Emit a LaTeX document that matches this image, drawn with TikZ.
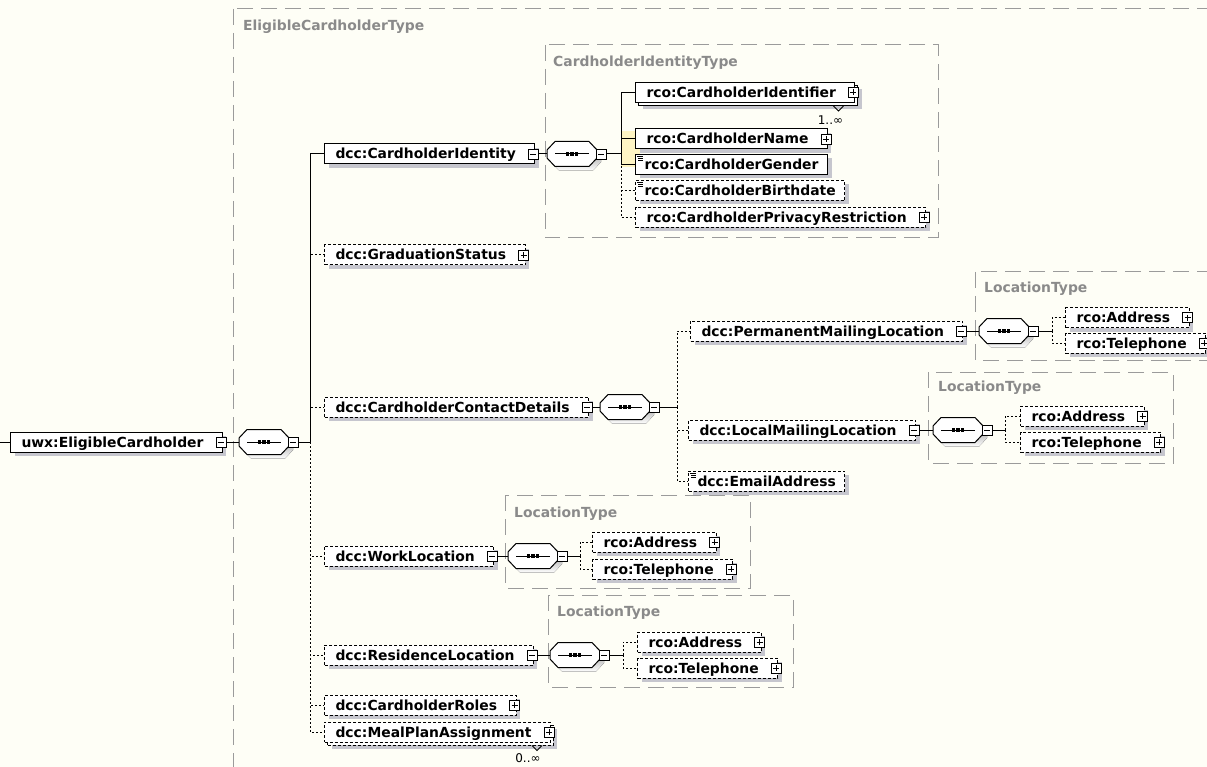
\documentclass[tikz,border=0pt]{standalone}
\usepackage{fontspec}
\setmainfont{DejaVu Sans}
\usetikzlibrary{shadows,calc}

\definecolor{paper}{RGB}{254,254,246}
\definecolor{frameline}{RGB}{155,155,155}
\definecolor{frametext}{RGB}{138,138,138}
\definecolor{shade}{RGB}{198,198,206}
\definecolor{hilite}{RGB}{255,245,196}

\tikzset{
  lbl/.style={font=\fontsize{13.9}{16}\selectfont\bfseries},
  box/.style={lbl, draw=black, fill=white, line width=1pt, anchor=west,
    minimum height=20pt, inner xsep=11pt, inner ysep=0pt,
    text height=12.5pt, text depth=2.5pt},
  elem/.style={box,
    drop shadow={shadow xshift=4pt, shadow yshift=-4pt, fill=shade, draw=none, opacity=1}},
  multi/.style={box,
    general shadow={shadow xshift=7pt, shadow yshift=-7pt, fill=shade, draw=none},
    general shadow={shadow xshift=3pt, shadow yshift=-3pt, fill=white, draw=black, #1}},
  multi/.default={solid},
  optional/.style={dash pattern=on 3pt off 2pt},
  withbox/.style={execute at end node={\hspace*{8pt}}},
  simple/.style={inner xsep=9pt, path picture={
    \draw[solid, line width=0.7pt]
      ([xshift=1.5pt,yshift=-2pt]path picture bounding box.north west) -- +(5.5pt,0)
      ([xshift=2.5pt,yshift=-4pt]path picture bounding box.north west) -- +(4.5pt,0)
      ([xshift=2.5pt,yshift=-6pt]path picture bounding box.north west) -- +(4.5pt,0);}},
  seq/.style={minimum width=50pt, minimum height=25pt, inner sep=0pt},
  pm/.style={draw=black, fill=white, line width=0.8pt, solid, minimum size=10pt, inner sep=0pt},
  minus/.style={pm, path picture={
    \draw[line width=0.8pt] ([xshift=2pt]path picture bounding box.west) -- ([xshift=-2pt]path picture bounding box.east);}},
  plus/.style={pm, path picture={
    \draw[line width=0.8pt] ([xshift=2pt]path picture bounding box.west) -- ([xshift=-2pt]path picture bounding box.east)
      ([yshift=-2pt]path picture bounding box.north) -- ([yshift=2pt]path picture bounding box.south);}},
  link/.style={draw=black, line width=1pt},
  optlink/.style={draw=black, line width=1pt, dash pattern=on 2pt off 2pt},
  typeframe/.style={draw=frameline, line width=1pt, dash pattern=on 16pt off 8pt},
  typetitle/.style={lbl, text=frametext, anchor=west, inner sep=0pt},
  mult/.style={font=\fontsize{12}{14}\selectfont, inner sep=0pt},
}

% octagonal sequence compositor drawn over a placed seq node
\newcommand\seqmark[1]{%
  \begin{scope}[shift={(#1.center)}]
    \fill[shade, shift={(4,4)}] (-25,-4) -- (-17,-12.5) -- (17,-12.5) -- (25,-4) -- (25,4) -- (17,12.5) -- (-17,12.5) -- (-25,4) -- cycle;
    \draw[fill=white, line width=1pt] (-25,-4) -- (-17,-12.5) -- (17,-12.5) -- (25,-4) -- (25,4) -- (17,12.5) -- (-17,12.5) -- (-25,4) -- cycle;
    \draw[line width=1pt] (-17,0) -- (17,0);
    \foreach \d in {-4.5,0,4.5} \fill (\d-1.7,-1.7) rectangle (\d+1.7,1.7);
  \end{scope}}

\begin{document}
\begin{tikzpicture}[x=1pt, y=-1pt]
\useasboundingbox (0,0) rectangle (1207,767);
\clip (0,0) rectangle (1207,767);
\fill[paper] (0,0) rectangle (1207,767);

% complex type frames
\draw[typeframe] (233,9) rectangle (1240,800);
\draw[typeframe] (545,45) rectangle (938,238);
\draw[typeframe] (975,272) rectangle (1222,360);
\draw[typeframe] (928,372) rectangle (1173,463);
\draw[typeframe] (505,495) rectangle (750,588);
\draw[typeframe] (548,595) rectangle (793,687);

\node[typetitle] (t0) at (243,27) {EligibleCardholderType};
\node[typetitle] (t1) at (553,63) {CardholderIdentityType};
\node[typetitle] (t2) at (984,289) {LocationType};
\node[typetitle] (t3) at (938,388) {LocationType};
\node[typetitle] (t4) at (514,514) {LocationType};
\node[typetitle] (t5) at (557,613) {LocationType};

% selection highlight
\fill[hilite] (621,131) rectangle (640,167);

% root element and its sequence
\coordinate (rootin) at (0,442);
\node[elem, withbox] (root) at (10,442) {uwx:EligibleCardholder};
\node[minus] (rootm) at ([xshift=-2pt]root.east) {};
\node[seq] (rseq) at (264,442) {};
\seqmark{rseq}
\node[minus] (rseqm) at ([xshift=4pt]rseq.east) {};
\coordinate (j0) at (310,442);

% children of EligibleCardholderType
\node[elem, withbox] (cid) at (324,154) {dcc:CardholderIdentity};
\node[minus] (cidm) at ([xshift=-2pt]cid.east) {};
\node[seq] (cseq) at (572,154) {};
\seqmark{cseq}
\node[minus] (cseqm) at ([xshift=4pt]cseq.east) {};
\coordinate (j1) at (621,154);

\node[elem, optional, withbox] (grad) at (324,255) {dcc:GraduationStatus};
\node[plus] (gradp) at ([xshift=-2pt]grad.east) {};

\node[elem, optional, withbox] (ccd) at (324,407) {dcc:CardholderContactDetails};
\node[minus] (ccdm) at ([xshift=-2pt]ccd.east) {};
\node[seq] (ccseq) at (625,407) {};
\seqmark{ccseq}
\node[minus] (ccseqm) at ([xshift=4pt]ccseq.east) {};
\coordinate (j2) at (677,407);

\node[elem, optional, withbox] (work) at (324,556) {dcc:WorkLocation};
\node[minus] (workm) at ([xshift=-2pt]work.east) {};
\node[seq] (wseq) at (533,556) {};
\seqmark{wseq}
\node[minus] (wseqm) at ([xshift=4pt]wseq.east) {};
\coordinate (j5) at (580,556);

\node[elem, optional, withbox] (res) at (324,655) {dcc:ResidenceLocation};
\node[minus] (resm) at ([xshift=-2pt]res.east) {};
\node[seq] (rsseq) at (575,655) {};
\seqmark{rsseq}
\node[minus] (rsseqm) at ([xshift=4pt]rsseq.east) {};
\coordinate (j6) at (623,655);

\node[elem, optional, withbox] (roles) at (324,705) {dcc:CardholderRoles};
\node[plus] (rolesp) at ([xshift=-2pt]roles.east) {};

\node[multi={dash pattern=on 3pt off 2pt}, optional, withbox] (meal) at (324,732) {dcc:MealPlanAssignment};
\node[plus] (mealp) at ([xshift=-2pt]meal.east) {};
\node[mult] (mealmult) at ([xshift=-23pt, yshift=-26pt]meal.east) {0..∞};
\draw[link, line width=0.8pt] ($(meal.south east)+(-19,3)$) -- ($(meal.south east)+(-14,8)$) -- ($(meal.south east)+(-9,3)$);

% CardholderIdentityType content
\node[multi, withbox] (ident) at (635,92.5) {rco:CardholderIdentifier};
\node[plus] (identp) at ([xshift=-2pt]ident.east) {};
\node[mult] (identmult) at ([xshift=-25pt, yshift=-27.5pt]ident.east) {1..∞};
\draw[link, line width=0.8pt] ($(ident.south east)+(-22,3)$) -- ($(ident.south east)+(-17,8)$) -- ($(ident.south east)+(-12,3)$);

\node[elem, withbox] (name) at (635,139) {rco:CardholderName};
\node[plus] (namep) at ([xshift=-2pt]name.east) {};
\node[elem, simple] (gender) at (635,164.5) {rco:CardholderGender};
\node[elem, optional, simple] (birth) at (635,190.5) {rco:CardholderBirthdate};
\node[elem, optional, withbox] (priv) at (635,217.5) {rco:CardholderPrivacyRestriction};
\node[plus] (privp) at ([xshift=-2pt]priv.east) {};

% CardholderContactDetails content
\node[elem, optional, withbox] (perm) at (690,331) {dcc:PermanentMailingLocation};
\node[minus] (permm) at ([xshift=-2pt]perm.east) {};
\node[seq] (pseq) at (1004,331) {};
\seqmark{pseq}
\node[minus] (pseqm) at ([xshift=4pt]pseq.east) {};
\coordinate (j3) at (1052,331);
\node[elem, optional, withbox] (addr1) at (1065,317.5) {rco:Address};
\node[plus] (addr1p) at ([xshift=-2pt]addr1.east) {};
\node[elem, optional, withbox] (tel1) at (1065,343) {rco:Telephone};
\node[plus] (tel1p) at ([xshift=-2pt]tel1.east) {};

\node[elem, optional, withbox] (local) at (688,430) {dcc:LocalMailingLocation};
\node[minus] (localm) at ([xshift=-2pt]local.east) {};
\node[seq] (lseq) at (958,430) {};
\seqmark{lseq}
\node[minus] (lseqm) at ([xshift=4pt]lseq.east) {};
\coordinate (j4) at (1005,430);
\node[elem, optional, withbox] (addr2) at (1020,416) {rco:Address};
\node[plus] (addr2p) at ([xshift=-2pt]addr2.east) {};
\node[elem, optional, withbox] (tel2) at (1020,442) {rco:Telephone};
\node[plus] (tel2p) at ([xshift=-2pt]tel2.east) {};

\node[elem, optional, simple] (email) at (688,481) {dcc:EmailAddress};

% WorkLocation and ResidenceLocation content
\node[elem, optional, withbox] (addr3) at (592,542) {rco:Address};
\node[plus] (addr3p) at ([xshift=-2pt]addr3.east) {};
\node[elem, optional, withbox] (tel3) at (592,569) {rco:Telephone};
\node[plus] (tel3p) at ([xshift=-2pt]tel3.east) {};

\node[elem, optional, withbox] (addr4) at (637,642) {rco:Address};
\node[plus] (addr4p) at ([xshift=-2pt]addr4.east) {};
\node[elem, optional, withbox] (tel4) at (637,668) {rco:Telephone};
\node[plus] (tel4p) at ([xshift=-2pt]tel4.east) {};

% connectors
\draw[link] (rootin) -- (root.west);
\draw[link] (rootm.east) -- (rseq.west);
\draw[link] (rseqm.east) -- (j0);
\foreach \c in {grad,ccd,work,res,roles,meal} \draw[optlink] (j0) |- (\c.west);
\draw[link] (j0) |- (cid.west);

\draw[link] (cidm.east) -- (cseq.west);
\draw[link] (cseqm.east) -- (j1);
\foreach \c in {birth,priv} \draw[optlink] (j1) |- (\c.west);
\foreach \c in {ident,name,gender} \draw[link] (j1) |- (\c.west);

\draw[link] (ccdm.east) -- (ccseq.west);
\draw[link] (ccseqm.east) -- (j2);
\foreach \c in {perm,local,email} \draw[optlink] (j2) |- (\c.west);

\draw[link] (permm.east) -- (pseq.west);
\draw[link] (pseqm.east) -- (j3);
\foreach \c in {addr1,tel1} \draw[optlink] (j3) |- (\c.west);

\draw[link] (localm.east) -- (lseq.west);
\draw[link] (lseqm.east) -- (j4);
\foreach \c in {addr2,tel2} \draw[optlink] (j4) |- (\c.west);

\draw[link] (workm.east) -- (wseq.west);
\draw[link] (wseqm.east) -- (j5);
\foreach \c in {addr3,tel3} \draw[optlink] (j5) |- (\c.west);

\draw[link] (resm.east) -- (rsseq.west);
\draw[link] (rsseqm.east) -- (j6);
\foreach \c in {addr4,tel4} \draw[optlink] (j6) |- (\c.west);
\end{tikzpicture}
\end{document}
